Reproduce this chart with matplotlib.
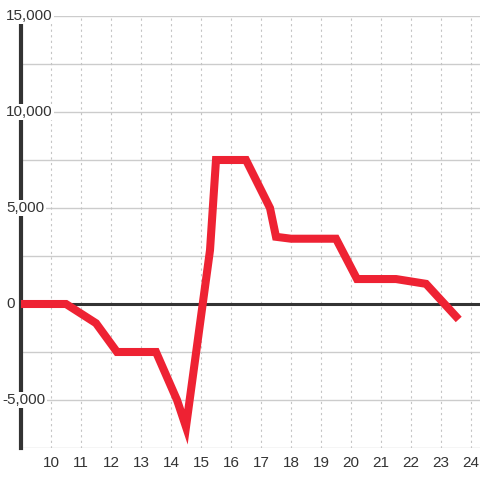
import matplotlib.pyplot as plt
import matplotlib.transforms as mtransforms

# data
x_vals = [9, 10.5, 11.5, 12.2, 13.5, 14.2, 14.5, 15.3, 15.5, 16.5, 17.3, 17.5, 18, 19.5, 20.2, 21.5, 22.5, 23.5]
y_vals = [0, 0, -1000, -2500, -2500, -5000, -6400, 2800, 7500, 7500, 5000, 3500, 3400, 3400, 1300, 1300, 1050, -650]
x_ticks = list(range(10, 25))
y_ticks = [-5000, 0, 5000, 10000, 15000]
y_grid = [-7500, -5000, -2500, 2500, 5000, 7500, 10000, 12500, 15000]

plt.rcParams['font.family'] = ['Liberation Sans', 'DejaVu Sans']

fig = plt.figure(figsize=(4.8, 4.8), dpi=100)
ax = fig.add_axes([21/480, 32/480, 459/480, 432/480])
ax.set_xlim(9, 24.3)
ax.set_ylim(-7500, 15000)

for s in ['top', 'right', 'bottom']:
    ax.spines[s].set_visible(False)
ax.spines['left'].set_color('#333333')
ax.spines['left'].set_linewidth(3)
ax.spines['left'].set_zorder(2)

# grid
for g in y_grid:
    ax.axhline(g, color='#cccccc', linewidth=1, zorder=1)
for t in x_ticks:
    ax.axvline(t, color='#c4c4c4', linewidth=0.8, linestyle=(0, (2, 3)), zorder=1)
ax.axhline(0, color='#333333', linewidth=2.2, zorder=3)

ax.plot(x_vals, y_vals, color='#ee2233', linewidth=5.8, solid_joinstyle='miter', zorder=4)

ax.set_xticks(x_ticks)
ax.set_xticklabels([str(t) for t in x_ticks], fontsize=11, color='#333333')
ax.tick_params(axis='x', length=0, pad=6)
ax.set_yticks([])

trans = mtransforms.blended_transform_factory(fig.transFigure, ax.transData)
for v in y_ticks:
    lab = '{:,}'.format(v)
    ax.text(6/480 if v >= 0 else 2/480, v, lab, transform=trans, ha='left', va='center',
            fontsize=11, color='#333333', zorder=5,
            bbox=dict(facecolor='white', edgecolor='none', pad=1))

fig.savefig('out.png', dpi=100)
